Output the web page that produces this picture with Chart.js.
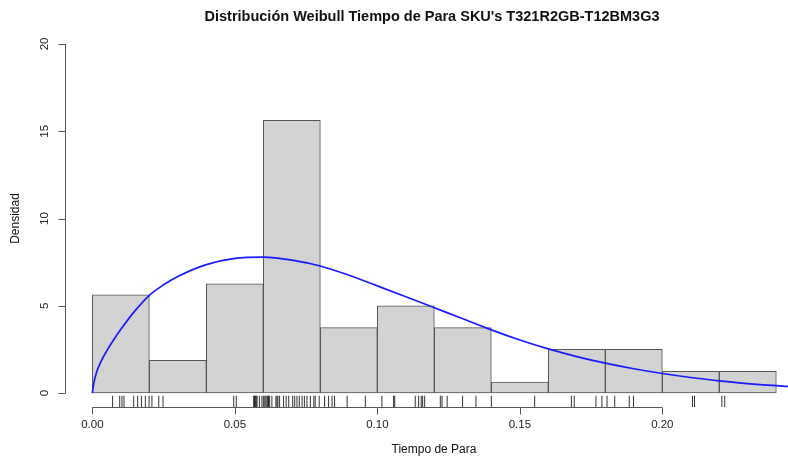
<!DOCTYPE html>
<html>
<head>
<meta charset="utf-8">
<script src="https://cdn.jsdelivr.net/npm/chart.js@4"></script>
<style>
  html, body { margin: 0; padding: 0; background: #fff; }
  #c { display: block; }
</style>
</head>
<body>
<canvas id="c" width="788" height="457"></canvas>
<script>
// histogram: bin centres (width 0.02) and densities
const binCenters = [0.01, 0.03, 0.05, 0.07, 0.09, 0.11, 0.13, 0.15, 0.17, 0.19, 0.21, 0.23];
const binDensity = [5.625, 1.875, 6.25, 15.625, 3.75, 5.0, 3.75, 0.625, 2.5, 2.5, 1.25, 1.25];

// fitted weibull curve
const curveX = [0, 0.0005, 0.0015, 0.003, 0.005, 0.0075, 0.01, 0.015, 0.02, 0.025, 0.03, 0.04, 0.05, 0.06, 0.07,
  0.08, 0.09, 0.10, 0.11, 0.12, 0.13, 0.14, 0.15, 0.16, 0.17, 0.18, 0.19, 0.20, 0.21, 0.22, 0.23, 0.24, 0.245];
const curveY = [0, 0.55, 1.2, 1.8, 2.4, 3.05, 3.65, 4.72, 5.6, 6.2, 6.68, 7.36, 7.72, 7.79, 7.62,
  7.28, 6.75, 6.14, 5.52, 4.89, 4.26, 3.62, 3.04, 2.53, 2.09, 1.71, 1.39, 1.12, 0.89, 0.70, 0.54, 0.42, 0.37];

// rug (observations)
const rugValues = [
  0.0071, 0.0096, 0.0104, 0.0111, 0.0145, 0.0159, 0.0172, 0.0186, 0.0199,
  0.0209, 0.0233, 0.0248,
  0.0496, 0.0505, 0.0566, 0.0569, 0.0572, 0.0575, 0.0578, 0.0586, 0.0595, 0.0600,
  0.0605, 0.0609, 0.0613, 0.0616, 0.0618, 0.0622, 0.0630, 0.0644, 0.0648, 0.0651, 0.0657, 0.0671,
  0.0680, 0.0689, 0.0703, 0.0710, 0.0718, 0.0726, 0.0736, 0.0744, 0.0753, 0.0765, 0.0777, 0.0782, 0.0796,
  0.0815, 0.0829, 0.0841, 0.0850, 0.0894, 0.0958,
  0.1016, 0.1057, 0.1061, 0.1133, 0.1145, 0.1154, 0.1159, 0.1166,
  0.1221, 0.1227, 0.1245, 0.1299, 0.1346, 0.1400,
  0.1552,
  0.1681, 0.1691, 0.1767, 0.1788,
  0.1806, 0.1833, 0.1884, 0.1899,
  0.2106, 0.2113,
  0.2209, 0.2219
];

const xTicks = [0, 0.05, 0.10, 0.15, 0.20];
const xTickLabels = ["0.00", "0.05", "0.10", "0.15", "0.20"];
const yTicks = [0, 5, 10, 15, 20];

const TITLE = "Distribución Weibull Tiempo de Para SKU's T321R2GB-T12BM3G3";
const X_TITLE = "Tiempo de Para";
const Y_TITLE = "Densidad";
const FONT = "'Liberation Sans', Arial, sans-serif";

// R-style axes drawn through the chart's own scales
const rAxes = {
  id: "rAxes",
  afterDraw(chart) {
    const { ctx, chartArea, scales: { x, y } } = chart;
    ctx.save();
    ctx.strokeStyle = "#555";
    ctx.fillStyle = "#222";
    ctx.lineWidth = 1;

    // y axis
    const ax = Math.round(chartArea.left) + 0.5;
    ctx.beginPath();
    ctx.moveTo(ax, y.getPixelForValue(yTicks[0]));
    ctx.lineTo(ax, y.getPixelForValue(yTicks[yTicks.length - 1]));
    yTicks.forEach((t) => {
      const py = Math.round(y.getPixelForValue(t)) + 0.5;
      ctx.moveTo(ax, py);
      ctx.lineTo(ax - 7, py);
    });
    ctx.stroke();
    ctx.font = "11.5px " + FONT;
    ctx.textAlign = "center";
    ctx.textBaseline = "middle";
    yTicks.forEach((t) => {
      ctx.save();
      ctx.translate(ax - 21, y.getPixelForValue(t));
      ctx.rotate(-Math.PI / 2);
      ctx.fillText(String(t), 0, 0);
      ctx.restore();
    });

    // x axis
    const ay = Math.round(chartArea.bottom) + 0.5;
    ctx.beginPath();
    ctx.moveTo(x.getPixelForValue(xTicks[0]), ay);
    ctx.lineTo(x.getPixelForValue(xTicks[xTicks.length - 1]), ay);
    xTicks.forEach((t) => {
      const px = Math.round(x.getPixelForValue(t)) + 0.5;
      ctx.moveTo(px, ay);
      ctx.lineTo(px, ay + 7);
    });
    ctx.stroke();
    ctx.textBaseline = "top";
    xTicks.forEach((t, i) => {
      ctx.fillText(xTickLabels[i], x.getPixelForValue(t), ay + 12);
    });

    // titles
    const cx = (chartArea.left + 803) / 2;
    ctx.fillStyle = "#111";
    ctx.font = "12px " + FONT;
    ctx.textBaseline = "middle";
    ctx.fillText(X_TITLE, cx, 450);
    ctx.save();
    ctx.translate(16, y.getPixelForValue(10));
    ctx.rotate(-Math.PI / 2);
    ctx.fillText(Y_TITLE, 0, 0);
    ctx.restore();
    ctx.font = "bold 14.5px " + FONT;
    ctx.fillText(TITLE, cx - 2, 17);
    ctx.restore();
  }
};

new Chart(document.getElementById("c"), {
  data: {
    datasets: [
      {
        type: "line",
        order: 0,
        data: curveX.map((v, i) => ({ x: v, y: curveY[i] })),
        borderColor: "#1a1aff",
        borderWidth: 1.7,
        pointRadius: 0,
        cubicInterpolationMode: "monotone",
        fill: false
      },
      {
        type: "scatter",
        order: 1,
        data: rugValues.map((v) => ({ x: v, y: -0.476 })),
        pointStyle: "line",
        rotation: 90,
        radius: 5.65,
        borderColor: "rgba(0,0,0,0.8)",
        borderWidth: 1,
        clip: false
      },
      {
        type: "bar",
        order: 2,
        data: binCenters.map((v, i) => ({ x: v, y: binDensity[i] })),
        backgroundColor: "#d3d3d3",
        borderColor: "#555",
        borderWidth: 1,
        borderSkipped: false,
        barPercentage: 1,
        categoryPercentage: 1,
        grouped: false
      }
    ]
  },
  options: {
    responsive: false,
    animation: false,
    layout: { autoPadding: false, padding: { left: 65, top: 30, right: 0, bottom: 50 } },
    plugins: { legend: { display: false }, tooltip: { enabled: false }, title: { display: false } },
    scales: {
      x: { type: "linear", min: -0.0096, max: 0.2441, offset: false, display: false },
      y: { type: "linear", min: -0.8, max: 20.8, display: false }
    }
  },
  plugins: [rAxes]
});
</script>
</body>
</html>
